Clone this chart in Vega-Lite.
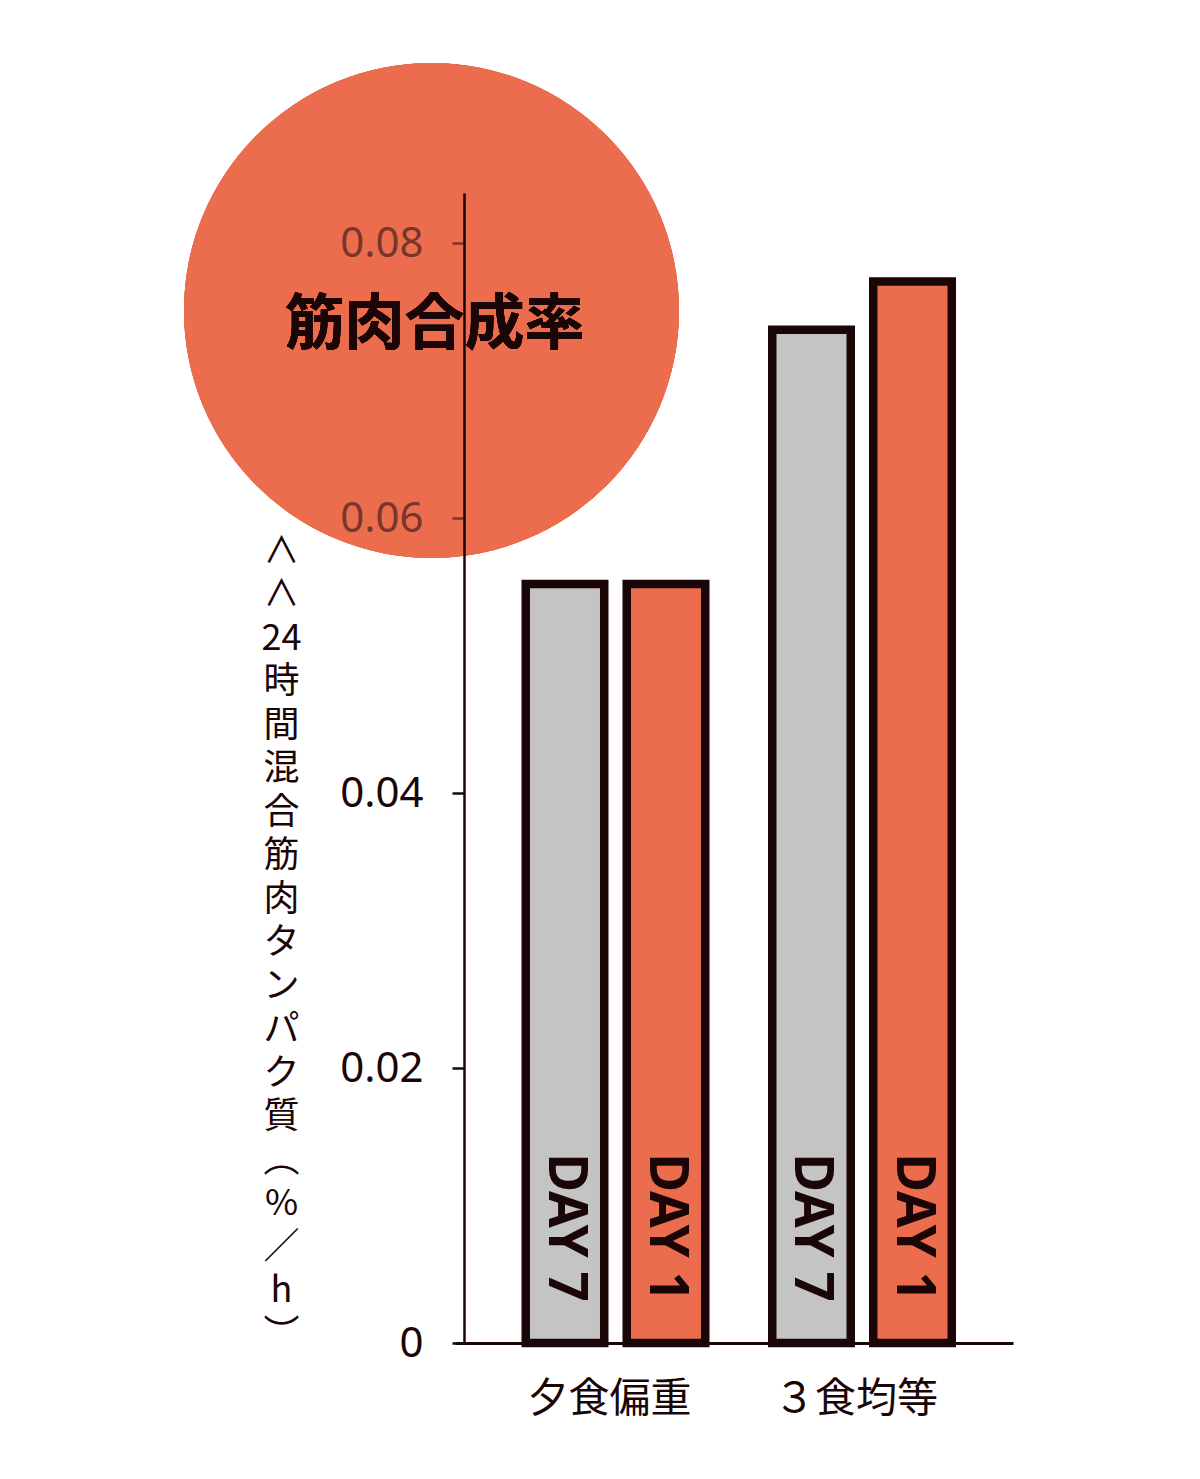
{
  "$schema": "https://vega.github.io/schema/vega-lite/v6.json",
  "width": 558,
  "height": 1150,
  "autosize": {"type": "none"},
  "padding": {"left": 455, "top": 193, "right": 187, "bottom": 136},
  "background": "white",
  "config": {"view": {"stroke": null}, "font": "Noto Sans CJK JP"},
  "data": {"values": [
    {"group": "夕食偏重", "day": "DAY 7", "rate": 0.0552},
    {"group": "夕食偏重", "day": "DAY 1", "rate": 0.0552},
    {"group": "３食均等", "day": "DAY 7", "rate": 0.0737},
    {"group": "３食均等", "day": "DAY 1", "rate": 0.0772}
  ]},
  "layer": [
    {
      "mark": {"type": "bar", "stroke": "#1a0606", "strokeWidth": 8.5},
      "encoding": {
        "x": {
          "field": "group", "type": "nominal", "sort": ["夕食偏重", "３食均等"],
          "scale": {"paddingInner": 0, "paddingOuter": 0.1318, "align": 0.573},
          "axis": {"title": null, "ticks": false, "labelAngle": 0, "labelFontSize": 41, "labelPadding": 36, "labelOffset": -6,
                   "labelColor": "#1a0606", "domainColor": "#1a0606", "domainWidth": 3, "zindex": 1}
        },
        "xOffset": {"field": "day", "type": "nominal", "sort": ["DAY 7", "DAY 1"],
                    "scale": {"paddingInner": 0.2228, "paddingOuter": 0.3317}},
        "y": {
          "field": "rate", "type": "quantitative",
          "scale": {"domain": [0, 0.08364], "nice": false},
          "axis": {
            "values": [0, 0.02, 0.04, 0.06, 0.08],
            "labelExpr": "datum.value == 0 ? '0' : format(datum.value, '.2f')",
            "grid": false, "offset": -9, "zindex": 1,
            "domainColor": "#1a0606", "domainWidth": 2.5,
            "tickSize": 12, "tickWidth": 2.5,
            "tickColor": {"condition": {"test": "datum.value >= 0.055", "value": "#78352a"}, "value": "#1a0606"},
            "labelColor": {"condition": {"test": "datum.value >= 0.055", "value": "#78352a"}, "value": "#1a0606"},
            "labelFont": "Noto Sans", "labelFontSize": 42, "labelPadding": 29,
            "title": ["∧", "∧", "24", "時", "間", "混", "合", "筋", "肉", "タ", "ン", "パ", "ク", "質", "︵", "%", "／", "h", "︶"],
            "titleAngle": 0, "titleAlign": "center", "titleBaseline": "top",
            "titleX": -183, "titleY": 341, "titleFontSize": 36, "titleLineHeight": 43.5,
            "titleFontWeight": "normal", "titleColor": "#1a0606"
          }
        },
        "color": {"field": "day", "type": "nominal",
                  "scale": {"domain": ["DAY 7", "DAY 1"], "range": ["#c4c4c4", "#eb6d4e"]}, "legend": null}
      }
    },
    {
      "mark": {"type": "point", "filled": true, "opacity": 1, "color": "#eb6d4e", "size": 245025, "xOffset": -184, "strokeWidth": 0},
      "encoding": {"x": {"datum": "夕食偏重"}, "y": {"datum": 0.0751}}
    },
    {
      "mark": {"type": "text", "text": "筋肉合成率", "fontSize": 60, "fontWeight": "bold", "color": "#1a0606",
               "align": "center", "baseline": "middle", "xOffset": -181, "dy": 16},
      "encoding": {"x": {"datum": "夕食偏重"}, "y": {"datum": 0.0751}}
    },
    {
      "mark": {"type": "text", "angle": 90, "align": "left", "baseline": "middle", "font": "Noto Sans", "fontSize": 53, "fontWeight": "bold", "color": "#1a0606"},
      "encoding": {
        "x": {"field": "group", "type": "nominal", "sort": ["夕食偏重", "３食均等"]},
        "xOffset": {"field": "day", "type": "nominal", "sort": ["DAY 7", "DAY 1"]},
        "y": {"datum": 0.0138},
        "text": {"field": "day"}
      }
    }
  ]
}
